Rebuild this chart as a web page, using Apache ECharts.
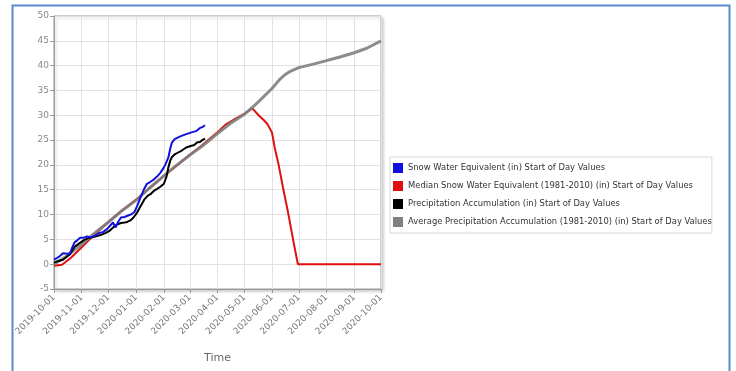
<!DOCTYPE html>
<html>
<head>
<meta charset="utf-8">
<script src="https://cdn.jsdelivr.net/npm/echarts@6/dist/echarts.min.js"></script>
<style>
  html, body { margin: 0; padding: 0; background: #fff; }
  #chart { width: 736px; height: 371px; }
</style>
</head>
<body>
<div id="chart"></div>
<script>
// Water year 2020 snow / precipitation record, values in inches.
const seriesNames = [
  'Snow Water Equivalent (in) Start of Day Values',
  'Median Snow Water Equivalent (1981-2010) (in) Start of Day Values',
  'Precipitation Accumulation (in) Start of Day Values',
  'Average Precipitation Accumulation (1981-2010) (in) Start of Day Values'
];

const sweData = [
  ['2019-10-01', 0.9], ['2019-10-04', 1.2], ['2019-10-08', 1.7], ['2019-10-11', 2.2],
  ['2019-10-16', 2.1], ['2019-10-19', 2.2], ['2019-10-21', 3.2], ['2019-10-24', 4.4],
  ['2019-10-27', 4.8], ['2019-10-30', 5.3], ['2019-11-03', 5.3], ['2019-11-07', 5.6],
  ['2019-11-11', 5.4], ['2019-11-14', 5.6], ['2019-11-18', 5.9], ['2019-11-21', 6.3],
  ['2019-11-25', 6.5], ['2019-11-29', 7.0], ['2019-12-03', 7.8], ['2019-12-06', 8.4],
  ['2019-12-09', 7.4], ['2019-12-12', 8.6], ['2019-12-15', 9.4], ['2019-12-19', 9.5],
  ['2019-12-23', 9.8], ['2019-12-27', 10.1], ['2019-12-30', 10.5], ['2020-01-02', 11.7],
  ['2020-01-06', 13.5], ['2020-01-10', 15.2], ['2020-01-13', 16.2], ['2020-01-17', 16.6],
  ['2020-01-21', 17.1], ['2020-01-24', 17.6], ['2020-01-28', 18.4], ['2020-02-01', 19.5],
  ['2020-02-03', 20.2], ['2020-02-06', 21.5], ['2020-02-08', 23.2], ['2020-02-10', 24.5],
  ['2020-02-13', 25.2], ['2020-02-15', 25.5], ['2020-02-20', 25.8], ['2020-02-26', 26.2],
  ['2020-03-02', 26.5], ['2020-03-08', 26.8], ['2020-03-12', 27.4], ['2020-03-15', 27.6],
  ['2020-03-18', 28.0]
];

const medianSweData = [
  ['2019-10-01', -0.3], ['2019-10-10', -0.1], ['2019-10-20', 1.3], ['2019-11-01', 3.4],
  ['2019-11-15', 5.9], ['2019-12-01', 8.5], ['2019-12-15', 10.7], ['2020-01-01', 13.0],
  ['2020-01-15', 15.2], ['2020-02-01', 17.8], ['2020-02-15', 19.8], ['2020-03-01', 22.0],
  ['2020-03-15', 24.0], ['2020-04-01', 26.6], ['2020-04-10', 28.1], ['2020-04-20', 29.2],
  ['2020-05-01', 30.3], ['2020-05-10', 31.4], ['2020-05-17', 30.0], ['2020-05-23', 29.0],
  ['2020-05-27', 28.2], ['2020-06-01', 26.5], ['2020-06-04', 23.5], ['2020-06-08', 20.4],
  ['2020-06-13', 15.7], ['2020-06-19', 10.4], ['2020-06-26', 3.6], ['2020-06-30', 0.0],
  ['2020-10-01', 0.0]
];

const precipData = [
  ['2019-10-01', 0.3], ['2019-10-05', 0.6], ['2019-10-11', 0.9], ['2019-10-16', 1.6],
  ['2019-10-19', 2.0], ['2019-10-21', 2.6], ['2019-10-24', 3.5], ['2019-10-27', 3.9],
  ['2019-10-30', 4.3], ['2019-11-04', 4.9], ['2019-11-09', 5.3], ['2019-11-13', 5.4],
  ['2019-11-17', 5.6], ['2019-11-21', 5.8], ['2019-11-24', 6.0], ['2019-11-28', 6.3],
  ['2019-12-02', 6.7], ['2019-12-05', 7.2], ['2019-12-08', 7.7], ['2019-12-12', 8.1],
  ['2019-12-15', 8.3], ['2019-12-19', 8.4], ['2019-12-22', 8.5], ['2019-12-26', 8.9],
  ['2019-12-29', 9.4], ['2020-01-02', 10.4], ['2020-01-06', 11.7], ['2020-01-10', 13.0],
  ['2020-01-14', 13.8], ['2020-01-17', 14.1], ['2020-01-21', 14.8], ['2020-01-24', 15.1],
  ['2020-01-28', 15.6], ['2020-02-01', 16.2], ['2020-02-04', 17.7], ['2020-02-06', 19.5],
  ['2020-02-08', 20.8], ['2020-02-10', 21.6], ['2020-02-13', 22.1], ['2020-02-17', 22.5],
  ['2020-02-21', 22.9], ['2020-02-26', 23.5], ['2020-03-02', 23.8], ['2020-03-06', 24.0],
  ['2020-03-09', 24.5], ['2020-03-12', 24.6], ['2020-03-15', 25.0], ['2020-03-18', 25.3]
];

const avgPrecipData = [
  ['2019-10-01', 0.0], ['2019-10-15', 1.6], ['2019-11-01', 4.0], ['2019-11-15', 6.2],
  ['2019-12-01', 8.5], ['2019-12-15', 10.6], ['2020-01-01', 12.9], ['2020-01-15', 15.2],
  ['2020-02-01', 17.8], ['2020-02-15', 19.9], ['2020-03-01', 22.0], ['2020-03-15', 23.8],
  ['2020-04-01', 26.3], ['2020-04-15', 28.3], ['2020-05-01', 30.2], ['2020-05-15', 32.4],
  ['2020-06-01', 35.4], ['2020-06-10', 37.3], ['2020-06-15', 38.1], ['2020-06-22', 38.9],
  ['2020-07-01', 39.6], ['2020-07-15', 40.2], ['2020-08-01', 41.0], ['2020-08-15', 41.7],
  ['2020-09-01', 42.6], ['2020-09-15', 43.5], ['2020-10-01', 45.0]
];

const yMin = -5, yMax = 50, yStep = 5;

// One category per day of the water year, labelled on the first of each month.
const days = [];
(function () {
  const d = new Date(Date.UTC(2019, 9, 1));
  const end = Date.UTC(2020, 9, 1);
  while (d.getTime() <= end) {
    days.push(d.toISOString().slice(0, 10));
    d.setUTCDate(d.getUTCDate() + 1);
  }
})();
const isMonthStart = (idx, value) => value.slice(8) === '01';

const chart = echarts.init(document.getElementById('chart'), null, { renderer: 'canvas' });

const font = 'DejaVu Sans, Verdana, sans-serif';

chart.setOption({
  animation: false,
  backgroundColor: '#fff',
  graphic: [{
    type: 'rect',
    shape: { x: 12.5, y: 5.5, width: 717, height: 420 },
    style: { fill: 'none', stroke: '#5a8ad0', lineWidth: 2 },
    silent: true
  }],
  grid: {
    left: 54, top: 16, right: 355, bottom: 82,
    show: true, borderColor: '#a0a0a0', borderWidth: 1,
    shadowColor: 'rgba(0,0,0,0.2)', shadowBlur: 3, shadowOffsetX: 2, shadowOffsetY: 2,
    backgroundColor: '#fff'
  },
  legend: {
    orient: 'vertical',
    left: 390, top: 157,
    padding: [6, 0, 6, 3],
    itemGap: 8,
    itemWidth: 10, itemHeight: 10,
    icon: 'rect',
    borderColor: '#d8d8d8', borderWidth: 1,
    backgroundColor: '#fff',
    textStyle: { fontFamily: font, fontSize: 8.4, color: '#333' },
    data: seriesNames
  },
  xAxis: {
    type: 'category',
    data: days,
    boundaryGap: false,
    name: 'Time',
    nameLocation: 'middle',
    nameGap: 64,
    nameTextStyle: { fontFamily: font, fontSize: 11, color: '#666' },
    axisLine: { onZero: false, lineStyle: { color: '#999', width: 1 } },
    axisTick: { show: true, interval: isMonthStart, length: 4, lineStyle: { color: '#999' } },
    axisLabel: {
      interval: isMonthStart, rotate: 45, margin: 7,
      fontFamily: font, fontSize: 9, color: '#777'
    },
    splitLine: { show: true, interval: isMonthStart, lineStyle: { color: '#e2e2e2', width: 1 } }
  },
  yAxis: {
    type: 'value',
    min: yMin, max: yMax, interval: yStep,
    axisLine: { show: true, lineStyle: { color: '#999', width: 1 } },
    axisTick: { show: true, length: 4, lineStyle: { color: '#999' } },
    axisLabel: { fontFamily: font, fontSize: 9, color: '#888', margin: 5 },
    splitLine: { show: true, lineStyle: { color: '#e2e2e2', width: 1 } }
  },
  series: [
    {
      name: seriesNames[0], type: 'line', data: sweData, z: 5,
      showSymbol: false, lineStyle: { color: '#1010e0', width: 2 }, itemStyle: { color: '#1010e0' }
    },
    {
      name: seriesNames[1], type: 'line', data: medianSweData, z: 2,
      showSymbol: false, lineStyle: { color: '#e01010', width: 2 }, itemStyle: { color: '#e01010' }
    },
    {
      name: seriesNames[2], type: 'line', data: precipData, z: 4,
      showSymbol: false, lineStyle: { color: '#000', width: 2 }, itemStyle: { color: '#000' }
    },
    {
      name: seriesNames[3], type: 'line', data: avgPrecipData, z: 3,
      showSymbol: false, lineStyle: { color: 'rgba(128,128,128,0.9)', width: 3 }, itemStyle: { color: '#808080' }
    }
  ]
});
</script>
</body>
</html>
